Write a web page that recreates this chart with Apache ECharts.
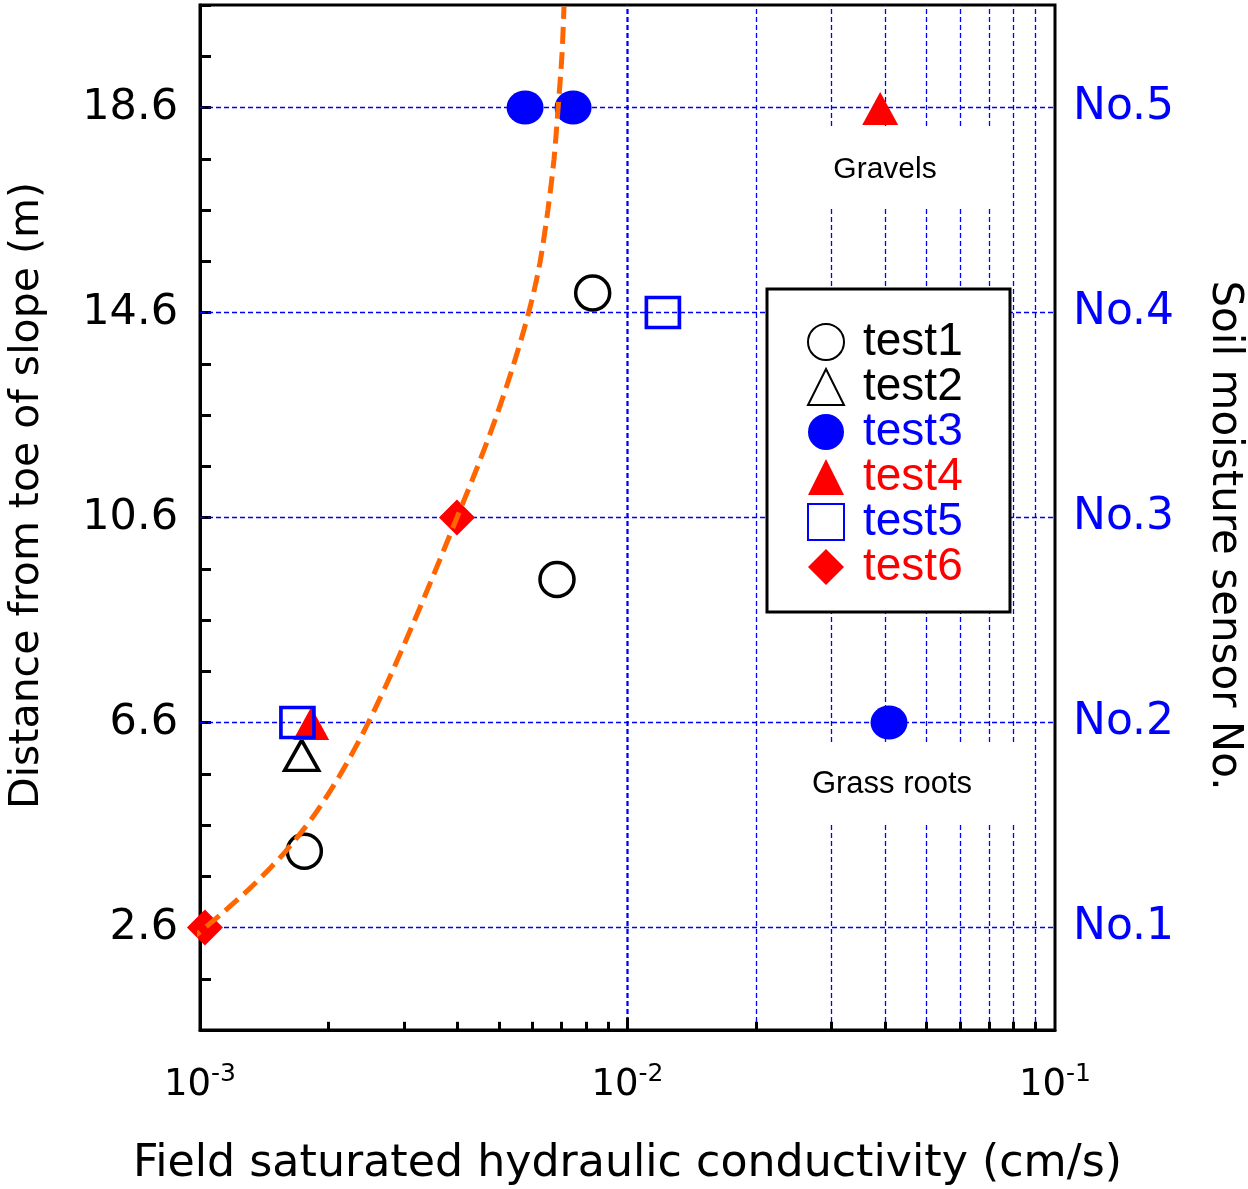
<!DOCTYPE html>
<html>
<head>
<meta charset="utf-8">
<script src="https://cdn.jsdelivr.net/npm/echarts@6/dist/echarts.min.js"></script>
<style>
html,body{margin:0;padding:0;background:#fff;}
#c{width:1248px;height:1189px;}
</style>
</head>
<body>
<div id="c"></div>
<script>
// ---- data ----
const test1X = [0.00829, 0.00684, 0.001754];
const test1Y = [14.98, 9.39, 4.09];
const test2X = [0.001729];
const test2Y = [5.96];
const test3X = [0.00576, 0.00746, 0.0409];
const test3Y = [18.6, 18.6, 6.6];
const test4X = [0.0390, 0.00182];
const test4Y = [18.58, 6.58];
const test5X = [0.00169, 0.0121];
const test5Y = [6.6, 14.6];
const test6X = [0.001027, 0.00399];
const test6Y = [2.6, 10.6];
// fitted trend curve
const curveX = [0.000932, 0.001132, 0.001352, 0.001577, 0.001833, 0.002109, 0.00241, 0.002743, 0.003124, 0.003538, 0.003992, 0.00447, 0.004924, 0.005369, 0.005727, 0.005979, 0.006242, 0.006516, 0.00673, 0.006877, 0.007027, 0.007103];
const curveY = [2.307, 2.893, 3.478, 4.063, 4.746, 5.527, 6.405, 7.38, 8.454, 9.527, 10.6, 11.615, 12.551, 13.488, 14.268, 14.854, 15.576, 16.61, 17.585, 18.561, 19.634, 20.571];
// axis ticks / labels
const yTickVals = [2.6, 6.6, 10.6, 14.6, 18.6];
const sensorLabels = ['No.1', 'No.2', 'No.3', 'No.4', 'No.5'];
const xGridVals = [0.002, 0.003, 0.004, 0.005, 0.006, 0.007, 0.008, 0.009, 0.01, 0.02, 0.03, 0.04, 0.05, 0.06, 0.07, 0.08, 0.09];
const yMin = 0.6, yMax = 20.6;
const xMin = 0.001, xMax = 0.1;

function zip(xs, ys){ return xs.map((x,i)=>[x, ys[i]]); }
function findTick(v){ return yTickVals.findIndex(t => Math.abs(t - v) < 1e-6); }

const BLUE = '#0000FF', RED = '#FF0000', BLACK = '#000000';
const AX_FONT = 'DejaVu Sans';
const LG_FONT = 'Liberation Sans';

const chart = echarts.init(document.getElementById('c'), null, {renderer:'canvas'});

const gridMarks = [];
yTickVals.forEach(v => gridMarks.push({yAxis: v}));
xGridVals.forEach(v => gridMarks.push({xAxis: v}));

const tickLen = 0.16;
const xTickMarks = xGridVals.map(v => [
  {coord: [v, yMin]},
  {coord: [v, yMin + (Math.abs(v - 0.01) < 1e-9 ? tickLen * 1.5 : tickLen)]}
]);

const option = {
  backgroundColor: '#ffffff',
  animation: false,
  grid: {left: 200, right: 193, top: 5, bottom: 159, containLabel: false, outerBoundsMode: 'none',
    show: true, borderColor: BLACK, borderWidth: 3, backgroundColor: 'transparent'},
  xAxis: {
    type: 'log', logBase: 10, min: xMin, max: xMax,
    name: 'Field saturated hydraulic conductivity (cm/s)',
    nameLocation: 'middle', nameGap: 112,
    nameTextStyle: {fontFamily: AX_FONT, fontSize: 44.3, color: BLACK},
    axisLine: {show: true, lineStyle: {color: BLACK, width: 3}},
    axisTick: {show: false},
    splitLine: {show: false},
    axisLabel: {
      margin: 32,
      formatter: v => '{b|10}{s|' + Math.round(Math.log10(v)) + '}',
      rich: {
        b: {fontFamily: AX_FONT, fontSize: 37, color: BLACK},
        s: {fontFamily: AX_FONT, fontSize: 25, color: BLACK, padding: [0, 0, 22, 0]}
      }
    }
  },
  yAxis: [{
    type: 'value', min: yMin, max: yMax, interval: 1, position: 'left',
    name: 'Distance from toe of slope (m)',
    nameLocation: 'middle', nameGap: 152, nameRotate: 90,
    nameTextStyle: {fontFamily: AX_FONT, fontSize: 41, color: BLACK, padding: [0, 0, 0, 44]},
    axisLine: {show: true, lineStyle: {color: BLACK, width: 3}},
    axisTick: {show: true, inside: true, length: 11, lineStyle: {color: BLACK, width: 3}},
    splitLine: {show: false},
    axisLabel: {
      margin: 22, fontFamily: AX_FONT, fontSize: 43, color: BLACK, padding: [6, 0, 0, 0],
      formatter: v => { const i = findTick(v); return i >= 0 ? String(yTickVals[i]) : ''; }
    }
  }, {
    type: 'value', min: yMin, max: yMax, interval: 1, position: 'right',
    name: 'Soil moisture sensor No.',
    nameLocation: 'middle', nameGap: 148, nameRotate: -90,
    nameTextStyle: {fontFamily: AX_FONT, fontSize: 42, color: BLACK, padding: [0, 0, 0, 36]},
    axisLine: {show: false},
    axisTick: {show: false},
    splitLine: {show: false},
    axisLabel: {
      margin: 18, fontFamily: AX_FONT, fontSize: 44, color: BLUE, padding: [7, 0, 0, 0],
      formatter: v => { const i = findTick(v); return i >= 0 ? sensorLabels[i] : ''; }
    }
  }],
  legend: {
    orient: 'vertical', left: 802, top: 314, itemWidth: 36, itemHeight: 36, itemGap: -1,
    z: 60, selectedMode: false,
    textStyle: {fontFamily: LG_FONT, fontSize: 46, padding: [0, 0, 0, 14]},
    data: [
      {name: 'test1', textStyle: {color: BLACK}},
      {name: 'test2', textStyle: {color: BLACK}},
      {name: 'test3', textStyle: {color: BLUE}},
      {name: 'test4', textStyle: {color: RED}},
      {name: 'test5', textStyle: {color: BLUE}},
      {name: 'test6', textStyle: {color: RED}}
    ]
  },
  graphic: [
    {type: 'rect', z: 50, shape: {x: 767, y: 289, width: 243, height: 323}, style: {fill: '#fff', stroke: BLACK, lineWidth: 3}},
    {type: 'rect', z: 50, shape: {x: 770, y: 128, width: 238, height: 80}, style: {fill: '#fff'}},
    {type: 'text', z: 51, x: 885, y: 170, style: {text: 'Gravels', fontFamily: LG_FONT, fontSize: 30, fill: BLACK, align: 'center', verticalAlign: 'middle'}},
    {type: 'rect', z: 50, shape: {x: 770, y: 742, width: 250, height: 80}, style: {fill: '#fff'}},
    {type: 'text', z: 51, x: 892, y: 784, style: {text: 'Grass roots', fontFamily: LG_FONT, fontSize: 31, fill: BLACK, align: 'center', verticalAlign: 'middle'}}
  ],
  series: [
    {
      name: '_grid', type: 'line', data: [], z: 1, silent: true,
      markLine: {silent: true, symbol: 'none', label: {show: false}, animation: false,
        lineStyle: {color: BLUE, width: 1.3, type: [5, 3], opacity: 1}, data: gridMarks}
    },
    {
      name: '_ticks', type: 'line', data: [], z: 3, silent: true,
      markLine: {silent: true, symbol: 'none', label: {show: false}, animation: false,
        lineStyle: {color: BLACK, width: 3, type: 'solid'}, data: xTickMarks}
    },
    {name: 'test1', type: 'scatter', z: 100, symbol: 'circle', symbolSize: 34, data: zip(test1X, test1Y),
      itemStyle: {color: 'rgba(255,255,255,0)', borderColor: BLACK, borderWidth: 3.5, opacity: 1}},
    {name: 'test2', type: 'scatter', z: 100, symbol: 'triangle', symbolSize: [34, 30], data: zip(test2X, test2Y),
      itemStyle: {color: 'rgba(255,255,255,0)', borderColor: BLACK, borderWidth: 3.5, opacity: 1}},
    {name: 'test3', type: 'scatter', z: 100, symbol: 'circle', symbolSize: [37, 34], data: zip(test3X, test3Y),
      itemStyle: {color: BLUE, opacity: 1}},
    {name: 'test4', type: 'scatter', z: 100, symbol: 'triangle', symbolSize: [36, 33], data: zip(test4X, test4Y),
      itemStyle: {color: RED, opacity: 1}},
    {name: 'test5', type: 'scatter', z: 100, symbol: 'rect', symbolSize: [33, 30], data: zip(test5X, test5Y),
      itemStyle: {color: 'rgba(255,255,255,0)', borderColor: BLUE, borderWidth: 3.5, opacity: 1}},
    {name: 'test6', type: 'scatter', z: 100, symbol: 'diamond', symbolSize: [36, 36], data: zip(test6X, test6Y),
      itemStyle: {color: RED, opacity: 1}},
    {name: 'trend', type: 'line', z: 110, clip: false, smooth: 0.3, showSymbol: false, silent: true,
      data: zip(curveX, curveY),
      lineStyle: {color: '#FF6600', width: 5, type: [17, 8]}}
  ]
};
chart.setOption(option);
</script>
</body>
</html>
